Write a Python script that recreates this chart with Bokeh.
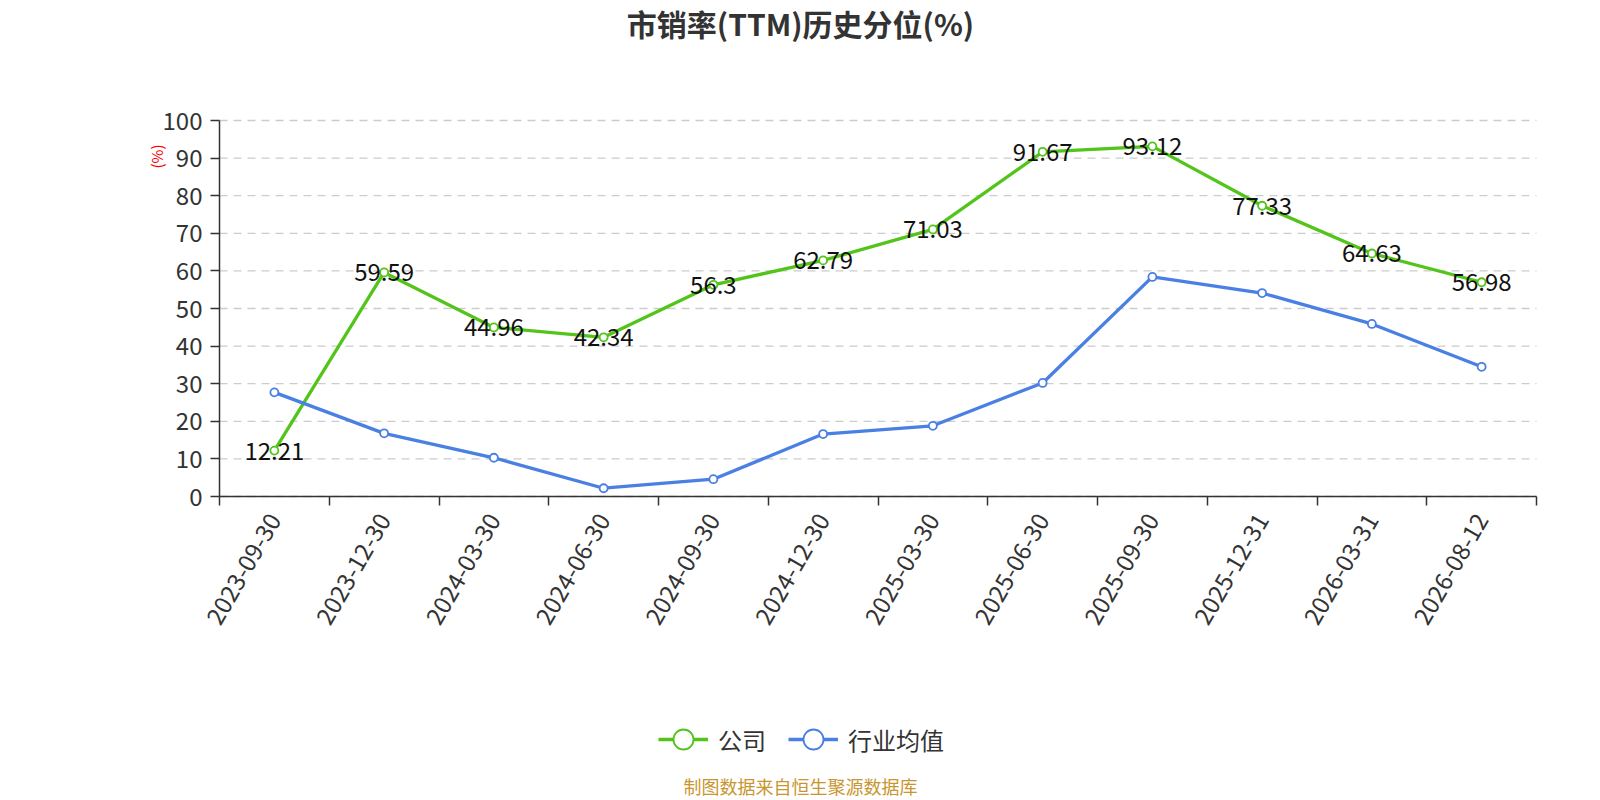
import math
from bokeh.plotting import figure
from bokeh.models import (Legend, LegendItem, FixedTicker, Range1d, ColumnDataSource, Label,
                          LinearAxis)
from bokeh.core.properties import value
from bokeh.embed import file_html
from bokeh.resources import INLINE

dates = ["2023-09-30", "2023-12-30", "2024-03-30", "2024-06-30", "2024-09-30", "2024-12-30",
         "2025-03-30", "2025-06-30", "2025-09-30", "2025-12-31", "2026-03-31", "2026-08-12"]
company = [12.21, 59.59, 44.96, 42.34, 56.3, 62.79, 71.03, 91.67, 93.12, 77.33, 64.63, 56.98]
industry = [27.7, 16.8, 10.3, 2.2, 4.6, 16.6, 18.8, 30.2, 58.4, 54.1, 45.9, 34.5]
y_ticks = [0, 10, 20, 30, 40, 50, 60, 70, 80, 90, 100]

title_text = "市销率(TTM)历史分位(%)"
unit_text = "(%)"
footer_text = "制图数据来自恒生聚源数据库"
series_names = ["公司", "行业均值"]

GREEN = "#52c41a"
BLUE = "#4a7fe3"
FONT = "Noto Sans CJK SC"

# canvas and the plotting area inside it (pixels)
W, H = 1600, 800
PL, PR, PT, PB = 219, 1536, 120, 496
n = len(dates)
ymax = y_ticks[-1]
xpp = n / (PR - PL)
ypp = ymax / (PB - PT)
x_range = Range1d(-PL * xpp, n + (W - PR) * xpp)
y_range = Range1d(-(H - PB) * ypp, ymax + PT * ypp)

p = figure(width=W, height=H, output_backend="svg", toolbar_location=None,
           x_range=x_range, y_range=y_range, x_axis_location=None, y_axis_location=None,
           min_border=0, outline_line_color=None)
p.background_fill_color = "white"
p.border_fill_color = "white"
p.grid.visible = False

xs = [i + 0.5 for i in range(n)]
src = ColumnDataSource(dict(x=xs, c=company, i=industry,
                            lbl=[("%g" % v) for v in company]))

# horizontal dashed grid lines at the y ticks, across the plotting area
p.segment(x0=0, x1=n, y0=y_ticks, y1=y_ticks, line_color="#cccccc",
          line_dash="8 6", line_width=1.3)

# x axis at y = 0
xa = LinearAxis(fixed_location=0, bounds=(0, n))
xa.ticker = FixedTicker(ticks=xs, minor_ticks=list(range(n + 1)))
xa.major_label_overrides = {x: d for x, d in zip(xs, dates)}
xa.major_label_orientation = math.pi / 3
xa.major_tick_line_color = None
xa.minor_tick_out = 9
xa.minor_tick_in = 0
xa.minor_tick_line_color = "#333333"
xa.minor_tick_line_width = 1.5
xa.axis_line_color = "#333333"
xa.axis_line_width = 1.5
xa.major_label_text_font = FONT
xa.major_label_text_font_size = "24px"
xa.major_label_text_color = "#333333"
xa.major_label_standoff = 10
p.add_layout(xa, "below")

# y axis at x = 0
ya = LinearAxis(fixed_location=0, bounds=(0, ymax))
ya.ticker = FixedTicker(ticks=y_ticks)
ya.minor_tick_line_color = None
ya.major_tick_out = 9
ya.major_tick_in = 0
ya.major_tick_line_color = "#333333"
ya.major_tick_line_width = 1.5
ya.axis_line_color = "#333333"
ya.axis_line_width = 1.5
ya.major_label_text_font = FONT
ya.major_label_text_font_size = "24px"
ya.major_label_text_color = "#333333"
ya.major_label_standoff = 8
p.add_layout(ya, "left")

# lines
gl = p.line("x", "c", source=src, line_color=GREEN, line_width=3.3)
gs = p.scatter("x", "c", source=src, size=8, fill_color="white", line_color=GREEN, line_width=1.8)
bl = p.line("x", "i", source=src, line_color=BLUE, line_width=3.3)
bs = p.scatter("x", "i", source=src, size=8, fill_color="white", line_color=BLUE, line_width=1.8)

p.text("x", "c", text="lbl", source=src, text_align="center", text_baseline="middle",
       text_font=value(FONT), text_font_size="24px", text_color="#111111")

# legend
legend = Legend(items=[LegendItem(label=series_names[0], renderers=[gl, gs]),
                       LegendItem(label=series_names[1], renderers=[bl, bs])],
                orientation="horizontal", location=(658, H - 765),
                glyph_width=50, glyph_height=52, spacing=22, label_standoff=10,
                label_text_font=FONT, label_text_font_size="24px", label_text_color="#333333",
                background_fill_alpha=0, border_line_color=None, padding=0, margin=0)
p.add_layout(legend, "center")

# title, unit label, footer (screen units from the canvas' bottom-left)
p.add_layout(Label(x=W / 2, y=H - 22, x_units="screen", y_units="screen", text=title_text,
                   text_align="center", text_baseline="middle", text_font=FONT,
                   text_font_size="30px", text_font_style="bold", text_color="#333333"))
p.add_layout(Label(x=156, y=H - 156, x_units="screen", y_units="screen", text=unit_text,
                   angle=math.pi / 2, text_align="center", text_baseline="middle",
                   text_font=FONT, text_font_size="15px", text_color="#ff0000"))
p.add_layout(Label(x=W / 2, y=H - 785, x_units="screen", y_units="screen", text=footer_text,
                   text_align="center", text_baseline="middle", text_font=FONT,
                   text_font_size="18px", text_color="#c8962e"))

open("out.html", "w").write(file_html(p, INLINE))
